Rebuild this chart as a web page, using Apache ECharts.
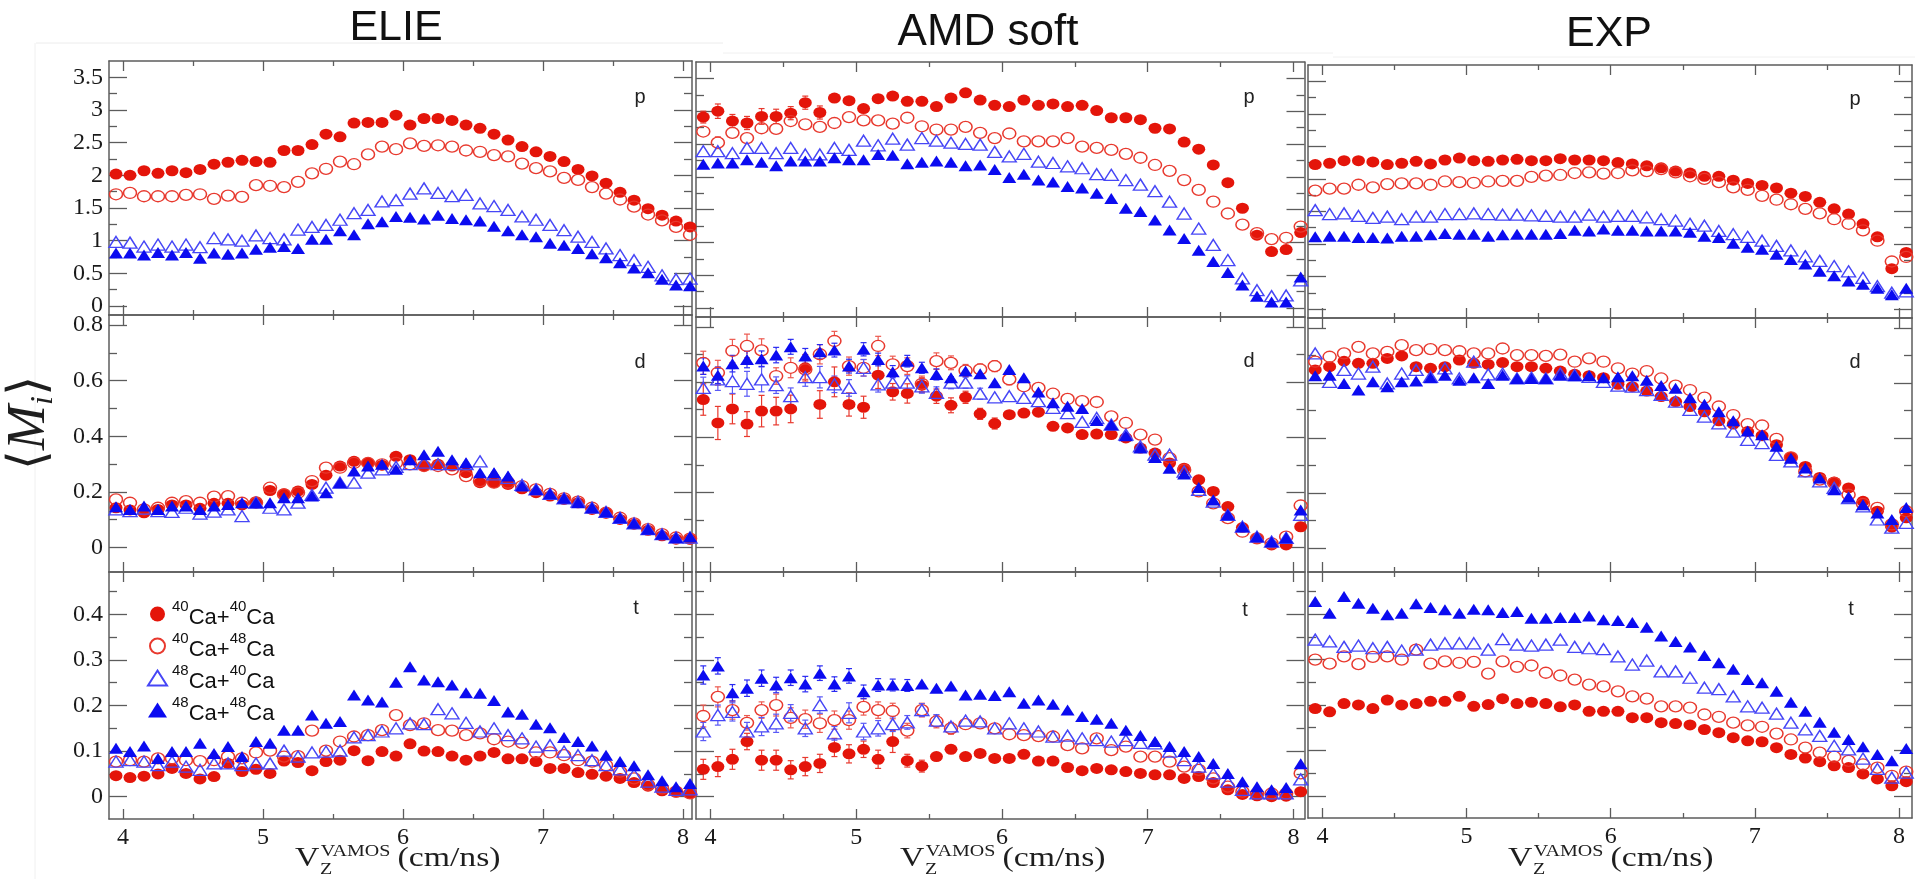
<!DOCTYPE html>
<html><head><meta charset="utf-8">
<script src="https://cdn.jsdelivr.net/npm/echarts@6/dist/echarts.min.js"></script>
<style>html,body{margin:0;padding:0;background:#fff;} #c{width:1915px;height:879px;}</style>
</head><body><div id="c"></div>
<script>
// ---------------- data ----------------
const xs = [3.95,4.05,4.15,4.25,4.35,4.45,4.55,4.65,4.75,4.85,4.95,5.05,5.15,5.25,5.35,5.45,5.55,5.65,5.75,5.85,5.95,6.05,6.15,6.25,6.35,6.45,6.55,6.65,6.75,6.85,6.95,7.05,7.15,7.25,7.35,7.45,7.55,7.65,7.75,7.85,7.95,8.05];
const seriesNames = ['40Ca+40Ca','40Ca+48Ca','48Ca+40Ca','48Ca+48Ca'];
const columnTitles = ['ELIE','AMD soft','EXP'];
const rowLabels = ['p','d','t'];
const xMajorTicks = [4,5,6,7,8];
const xMinorTicks = [4.5,5.5,6.5,7.5];
const yMajorP = [0,0.5,1,1.5,2,2.5,3,3.5];
const yMinorP = [0.25,0.75,1.25,1.75,2.25,2.75,3.25];
const yMajorD = [0,0.2,0.4,0.6,0.8];
const yMinorD = [0.1,0.3,0.5,0.7];
const yMajorT = [0,0.1,0.2,0.3,0.4];
const yMinorT = [0.05,0.15,0.25,0.35,0.45];

// ELIE
const elieP_4040 = [2.02,2.0,2.07,2.03,2.07,2.04,2.09,2.17,2.2,2.23,2.21,2.2,2.38,2.38,2.47,2.63,2.59,2.8,2.81,2.81,2.92,2.77,2.87,2.87,2.84,2.77,2.72,2.63,2.54,2.44,2.36,2.29,2.21,2.09,1.99,1.88,1.74,1.62,1.49,1.39,1.3,1.21];
const elieP_4048 = [1.71,1.73,1.68,1.68,1.68,1.70,1.71,1.64,1.69,1.67,1.85,1.84,1.82,1.90,2.03,2.10,2.21,2.17,2.32,2.44,2.40,2.49,2.45,2.46,2.44,2.38,2.36,2.31,2.29,2.18,2.11,2.06,1.96,1.93,1.82,1.72,1.63,1.52,1.40,1.31,1.21,1.09];
const elieP_4840 = [0.98,0.97,0.91,0.94,0.91,0.94,0.90,1.04,1.02,1.00,1.08,1.04,1.02,1.17,1.21,1.24,1.32,1.42,1.47,1.60,1.62,1.72,1.80,1.73,1.68,1.70,1.57,1.53,1.47,1.37,1.32,1.24,1.16,1.06,0.98,0.88,0.78,0.70,0.60,0.47,0.41,0.42];
const elieP_4848 = [0.81,0.81,0.78,0.82,0.78,0.82,0.73,0.81,0.79,0.81,0.87,0.90,0.91,0.88,1.02,1.02,1.15,1.09,1.26,1.29,1.37,1.36,1.33,1.39,1.34,1.32,1.30,1.22,1.15,1.09,1.06,0.96,0.93,0.88,0.80,0.74,0.66,0.58,0.51,0.41,0.32,0.31];
const elieD_4040 = [0.143,0.135,0.125,0.137,0.153,0.153,0.141,0.159,0.159,0.153,0.165,0.205,0.193,0.203,0.227,0.26,0.293,0.31,0.304,0.296,0.328,0.316,0.293,0.299,0.293,0.269,0.233,0.233,0.227,0.211,0.197,0.185,0.173,0.161,0.137,0.125,0.101,0.084,0.062,0.042,0.03,0.03];
const elieD_4048 = [0.173,0.161,0.137,0.143,0.161,0.167,0.161,0.183,0.185,0.161,0.161,0.215,0.191,0.197,0.239,0.287,0.287,0.304,0.304,0.299,0.304,0.299,0.293,0.293,0.281,0.257,0.239,0.233,0.233,0.221,0.209,0.193,0.177,0.165,0.143,0.125,0.107,0.087,0.066,0.048,0.036,0.032];
const elieD_4840 = [0.137,0.131,0.14,0.131,0.128,0.143,0.122,0.129,0.137,0.113,0.161,0.143,0.137,0.161,0.189,0.215,0.233,0.233,0.269,0.281,0.29,0.3,0.305,0.3,0.3,0.3,0.31,0.263,0.25,0.225,0.209,0.193,0.177,0.165,0.143,0.128,0.107,0.087,0.066,0.048,0.036,0.036];
const elieD_4848 = [0.147,0.137,0.149,0.137,0.149,0.149,0.137,0.149,0.155,0.161,0.161,0.161,0.179,0.179,0.185,0.197,0.233,0.275,0.293,0.299,0.281,0.316,0.334,0.346,0.316,0.304,0.269,0.269,0.257,0.221,0.209,0.193,0.177,0.161,0.143,0.129,0.107,0.087,0.066,0.048,0.036,0.039];
const elieT_4040 = [0.046,0.042,0.045,0.05,0.062,0.051,0.039,0.044,0.073,0.055,0.06,0.051,0.078,0.075,0.057,0.077,0.08,0.101,0.079,0.099,0.089,0.116,0.1,0.099,0.089,0.08,0.089,0.097,0.083,0.083,0.077,0.062,0.062,0.053,0.049,0.045,0.04,0.031,0.023,0.013,0.01,0.007];
const elieT_4048 = [0.077,0.08,0.077,0.084,0.084,0.08,0.078,0.08,0.088,0.084,0.097,0.101,0.088,0.089,0.145,0.101,0.121,0.132,0.135,0.146,0.179,0.157,0.161,0.146,0.145,0.135,0.139,0.126,0.121,0.118,0.097,0.097,0.091,0.08,0.077,0.069,0.055,0.04,0.026,0.018,0.011,0.007];
const elieT_4840 = [0.077,0.08,0.077,0.069,0.077,0.066,0.059,0.073,0.073,0.069,0.073,0.073,0.101,0.088,0.097,0.099,0.101,0.13,0.135,0.143,0.15,0.161,0.159,0.192,0.183,0.162,0.143,0.15,0.135,0.128,0.11,0.113,0.099,0.091,0.08,0.069,0.06,0.048,0.033,0.022,0.015,0.016];
const elieT_4848 = [0.106,0.099,0.111,0.084,0.099,0.099,0.117,0.095,0.11,0.088,0.121,0.117,0.146,0.146,0.179,0.161,0.165,0.223,0.212,0.208,0.251,0.285,0.256,0.252,0.245,0.228,0.227,0.211,0.186,0.181,0.159,0.151,0.13,0.121,0.111,0.091,0.077,0.068,0.048,0.035,0.022,0.029];
// AMD soft
const amdP_4040 = [2.91,3.0,2.85,2.82,2.92,2.92,2.97,3.13,2.98,3.2,3.16,3.04,3.19,3.23,3.15,3.15,3.07,3.2,3.28,3.17,3.09,3.07,3.17,3.09,3.11,3.07,3.09,3.01,2.9,2.9,2.87,2.74,2.73,2.53,2.42,2.18,1.91,1.52,1.11,0.86,0.89,1.15];
const amdP_4048 = [2.69,2.52,2.67,2.59,2.74,2.73,2.85,2.8,2.76,2.82,2.91,2.86,2.86,2.81,2.9,2.77,2.72,2.72,2.76,2.67,2.59,2.66,2.54,2.54,2.54,2.59,2.46,2.44,2.41,2.35,2.29,2.18,2.09,1.95,1.8,1.62,1.44,1.27,1.14,1.05,1.07,1.24];
const amdP_4840 = [2.39,2.39,2.36,2.44,2.44,2.36,2.44,2.34,2.34,2.44,2.41,2.55,2.48,2.58,2.49,2.59,2.55,2.52,2.5,2.49,2.38,2.31,2.35,2.23,2.21,2.16,2.13,2.04,2.03,1.95,1.88,1.78,1.62,1.44,1.21,0.96,0.73,0.45,0.27,0.18,0.19,0.42];
const amdP_4848 = [2.19,2.21,2.21,2.26,2.22,2.17,2.24,2.24,2.24,2.29,2.26,2.26,2.34,2.33,2.2,2.22,2.24,2.22,2.17,2.18,2.11,1.99,2.04,1.95,1.92,1.85,1.83,1.75,1.67,1.52,1.47,1.34,1.19,1.06,0.88,0.71,0.54,0.35,0.18,0.09,0.09,0.47];
const amdD_4040 = [0.537,0.452,0.503,0.448,0.495,0.495,0.503,0.652,0.519,0.601,0.519,0.509,0.625,0.565,0.559,0.589,0.549,0.516,0.545,0.485,0.45,0.482,0.488,0.491,0.44,0.434,0.41,0.412,0.41,0.398,0.361,0.343,0.307,0.288,0.246,0.204,0.149,0.073,0.034,0.01,0.01,0.076];
const amdD_4048 = [0.67,0.634,0.713,0.731,0.715,0.622,0.652,0.646,0.701,0.749,0.658,0.652,0.731,0.664,0.658,0.594,0.676,0.67,0.642,0.646,0.658,0.61,0.585,0.579,0.558,0.539,0.531,0.528,0.476,0.452,0.41,0.392,0.325,0.282,0.204,0.161,0.107,0.058,0.034,0.016,0.04,0.153];
const amdD_4840 = [0.579,0.61,0.604,0.594,0.61,0.589,0.549,0.618,0.618,0.592,0.579,0.652,0.592,0.598,0.598,0.585,0.561,0.598,0.598,0.558,0.545,0.549,0.543,0.531,0.507,0.488,0.456,0.47,0.446,0.41,0.367,0.337,0.337,0.276,0.21,0.167,0.119,0.076,0.04,0.022,0.036,0.119];
const amdD_4848 = [0.658,0.625,0.667,0.682,0.685,0.698,0.728,0.695,0.71,0.716,0.658,0.719,0.682,0.638,0.676,0.652,0.628,0.616,0.64,0.63,0.598,0.646,0.616,0.564,0.525,0.513,0.504,0.461,0.446,0.406,0.361,0.327,0.288,0.267,0.218,0.173,0.119,0.076,0.04,0.022,0.036,0.137];
const amdT_4040 = [0.06,0.066,0.082,0.121,0.08,0.08,0.059,0.066,0.073,0.108,0.094,0.104,0.082,0.121,0.079,0.067,0.088,0.104,0.088,0.095,0.084,0.084,0.093,0.078,0.078,0.064,0.057,0.062,0.059,0.055,0.051,0.048,0.048,0.04,0.044,0.031,0.015,0.005,0.002,0.0,0.001,0.011];
const amdT_4048 = [0.177,0.219,0.19,0.162,0.19,0.201,0.173,0.17,0.161,0.168,0.168,0.197,0.19,0.188,0.145,0.19,0.165,0.15,0.159,0.161,0.15,0.137,0.135,0.133,0.132,0.113,0.106,0.128,0.102,0.11,0.088,0.088,0.077,0.066,0.059,0.04,0.022,0.011,0.007,0.007,0.007,0.051];
const amdT_4840 = [0.143,0.179,0.186,0.143,0.154,0.161,0.184,0.15,0.201,0.139,0.184,0.143,0.15,0.159,0.163,0.19,0.167,0.154,0.167,0.165,0.15,0.161,0.15,0.143,0.132,0.134,0.128,0.124,0.121,0.124,0.118,0.117,0.099,0.08,0.066,0.051,0.033,0.015,0.007,0.007,0.007,0.038];
const amdT_4848 = [0.267,0.287,0.228,0.238,0.26,0.245,0.261,0.247,0.271,0.247,0.265,0.23,0.245,0.245,0.244,0.247,0.238,0.243,0.223,0.225,0.222,0.23,0.205,0.212,0.203,0.19,0.176,0.17,0.161,0.146,0.134,0.121,0.11,0.099,0.088,0.073,0.051,0.033,0.022,0.015,0.02,0.072];
// AMD soft statistical errors (half-length of the error bars)
const amdPErr_4040 = [0.09,0.11,0.1,0.1,0.12,0.11,0.1,0.1,0.1,0.08,0.07,0.07,0.06,0.06,0.05,0.05,0.05,0.05,0.05,0.05,0.04,0.04,0.04,0.04,0.04,0.04,0.04,0.04,0.03,0.03,0.03,0.03,0.03,0.03,0.03,0.03,0.03,0.03,0.03,0.03,0.03,0.03];
const amdPErr_4048 = [0.08,0.09,0.08,0.08,0.08,0.07,0.07,0.06,0.06,0.05,0.05,0.05,0.05,0.04,0.04,0.04,0.04,0.04,0.03,0.03,0.03,0.03,0.03,0.03,0.03,0.03,0.03,0.03,0.03,0.03,0.03,0.03,0.03,0.03,0.03,0.03,0.03,0.03,0.03,0.03,0.03,0.03];
const amdPErr_4840 = [0.06,0.06,0.06,0.05,0.05,0.05,0.05,0.05,0.05,0.04,0.04,0.04,0.04,0.04,0.04,0.04,0.03,0.03,0.03,0.03,0.03,0.03,0.03,0.03,0.03,0.03,0.03,0.03,0.03,0.03,0.03,0.03,0.03,0.03,0.03,0.03,0.03,0.03,0.03,0.03,0.03,0.03];
const amdPErr_4848 = [0.05,0.05,0.05,0.05,0.05,0.05,0.05,0.04,0.04,0.04,0.04,0.04,0.04,0.04,0.04,0.03,0.03,0.03,0.03,0.03,0.03,0.03,0.03,0.03,0.03,0.03,0.03,0.03,0.03,0.03,0.03,0.03,0.03,0.03,0.03,0.03,0.03,0.03,0.03,0.03,0.03,0.03];
const amdDErr_4040 = [0.057,0.06,0.054,0.045,0.057,0.05,0.05,0.048,0.05,0.054,0.042,0.04,0.048,0.03,0.035,0.027,0.026,0.027,0.022,0.02,0.02,0.018,0.018,0.016,0.015,0.015,0.014,0.014,0.013,0.012,0.012,0.011,0.011,0.01,0.01,0.01,0.01,0.01,0.01,0.01,0.01,0.01];
const amdDErr_4048 = [0.042,0.045,0.042,0.043,0.042,0.03,0.036,0.036,0.035,0.035,0.033,0.03,0.035,0.03,0.03,0.028,0.03,0.025,0.022,0.02,0.02,0.02,0.018,0.017,0.016,0.015,0.015,0.014,0.013,0.012,0.012,0.011,0.011,0.01,0.01,0.01,0.01,0.01,0.01,0.01,0.01,0.01];
const amdDErr_4840 = [0.039,0.04,0.045,0.045,0.045,0.03,0.03,0.033,0.039,0.03,0.03,0.03,0.028,0.027,0.025,0.025,0.022,0.022,0.02,0.02,0.019,0.018,0.017,0.016,0.015,0.015,0.014,0.013,0.013,0.012,0.012,0.011,0.011,0.01,0.01,0.01,0.01,0.01,0.01,0.01,0.01,0.01];
const amdDErr_4848 = [0.03,0.03,0.03,0.03,0.028,0.028,0.027,0.027,0.026,0.025,0.025,0.024,0.023,0.022,0.021,0.02,0.02,0.019,0.018,0.017,0.016,0.015,0.015,0.014,0.013,0.013,0.012,0.012,0.011,0.011,0.01,0.01,0.01,0.01,0.01,0.01,0.01,0.01,0.01,0.01,0.01,0.01];
const amdTErr_4040 = [0.022,0.022,0.022,0.018,0.022,0.022,0.02,0.02,0.02,0.02,0.02,0.018,0.02,0.024,0.014,0.013,0.012,0.012,0.011,0.011,0.011,0.01,0.01,0.01,0.009,0.009,0.008,0.008,0.008,0.007,0.007,0.007,0.006,0.006,0.006,0.005,0.005,0.005,0.004,0.004,0.004,0.004];
const amdTErr_4048 = [0.024,0.022,0.02,0.016,0.018,0.024,0.022,0.02,0.02,0.02,0.02,0.018,0.018,0.017,0.016,0.015,0.014,0.013,0.012,0.012,0.011,0.011,0.01,0.01,0.01,0.009,0.009,0.009,0.008,0.008,0.008,0.007,0.007,0.007,0.006,0.006,0.006,0.005,0.005,0.005,0.005,0.005];
const amdTErr_4840 = [0.02,0.022,0.02,0.02,0.02,0.02,0.018,0.018,0.018,0.015,0.022,0.018,0.017,0.016,0.015,0.014,0.013,0.012,0.012,0.011,0.011,0.011,0.01,0.01,0.01,0.009,0.009,0.009,0.008,0.008,0.008,0.007,0.007,0.007,0.006,0.006,0.006,0.005,0.005,0.005,0.005,0.005];
const amdTErr_4848 = [0.02,0.018,0.018,0.018,0.018,0.017,0.017,0.017,0.016,0.016,0.016,0.015,0.014,0.013,0.013,0.012,0.012,0.012,0.011,0.011,0.011,0.01,0.01,0.01,0.01,0.009,0.009,0.009,0.008,0.008,0.008,0.007,0.007,0.007,0.006,0.006,0.006,0.005,0.005,0.005,0.005,0.005];
// EXP
const expP_4040 = [2.22,2.24,2.28,2.28,2.26,2.22,2.24,2.27,2.23,2.29,2.32,2.28,2.27,2.29,2.3,2.28,2.28,2.31,2.29,2.29,2.28,2.25,2.23,2.2,2.17,2.12,2.09,2.04,2.04,1.98,1.93,1.9,1.86,1.78,1.73,1.64,1.54,1.46,1.31,1.11,0.62,0.87];
const expP_4048 = [1.82,1.85,1.85,1.91,1.87,1.92,1.93,1.93,1.91,1.96,1.95,1.94,1.96,1.97,1.97,2.03,2.05,2.06,2.09,2.1,2.08,2.09,2.13,2.12,2.15,2.1,2.04,2.0,1.95,1.87,1.83,1.74,1.68,1.61,1.54,1.47,1.38,1.31,1.21,1.05,0.73,0.8];
const expP_4840 = [1.52,1.46,1.47,1.43,1.4,1.42,1.38,1.42,1.42,1.46,1.46,1.47,1.46,1.45,1.45,1.44,1.43,1.42,1.42,1.45,1.42,1.43,1.43,1.41,1.38,1.36,1.31,1.28,1.2,1.15,1.11,1.05,0.97,0.9,0.81,0.74,0.66,0.58,0.48,0.35,0.25,0.27];
const expP_4848 = [1.11,1.12,1.12,1.1,1.1,1.09,1.12,1.12,1.14,1.16,1.15,1.15,1.12,1.14,1.15,1.15,1.15,1.16,1.21,1.2,1.23,1.21,1.21,1.2,1.2,1.2,1.18,1.12,1.1,1.01,0.95,0.92,0.84,0.76,0.69,0.58,0.51,0.43,0.38,0.32,0.22,0.32];
const expD_4040 = [0.647,0.659,0.679,0.671,0.671,0.689,0.698,0.659,0.653,0.659,0.683,0.671,0.667,0.674,0.659,0.659,0.653,0.643,0.631,0.626,0.619,0.595,0.586,0.57,0.55,0.532,0.514,0.495,0.462,0.45,0.423,0.408,0.375,0.329,0.296,0.256,0.239,0.218,0.169,0.133,0.075,0.109];
const expD_4048 = [0.677,0.695,0.707,0.731,0.707,0.713,0.737,0.719,0.723,0.719,0.715,0.707,0.707,0.725,0.701,0.701,0.698,0.703,0.677,0.689,0.677,0.653,0.634,0.643,0.616,0.59,0.574,0.546,0.514,0.483,0.45,0.445,0.396,0.329,0.278,0.248,0.236,0.193,0.16,0.145,0.085,0.133];
const expD_4840 = [0.707,0.604,0.647,0.634,0.659,0.598,0.634,0.647,0.622,0.653,0.616,0.677,0.631,0.634,0.616,0.619,0.616,0.634,0.628,0.622,0.604,0.59,0.586,0.574,0.556,0.532,0.502,0.477,0.453,0.423,0.393,0.381,0.338,0.314,0.278,0.242,0.218,0.181,0.151,0.103,0.073,0.091];
const expD_4848 = [0.626,0.628,0.598,0.574,0.604,0.586,0.604,0.607,0.619,0.628,0.61,0.619,0.598,0.628,0.616,0.616,0.616,0.628,0.626,0.626,0.619,0.622,0.626,0.61,0.59,0.58,0.546,0.522,0.495,0.462,0.425,0.411,0.369,0.326,0.29,0.254,0.211,0.184,0.157,0.127,0.103,0.147];
const expT_4040 = [0.192,0.185,0.203,0.2,0.192,0.211,0.2,0.203,0.208,0.208,0.219,0.197,0.201,0.214,0.203,0.206,0.203,0.196,0.2,0.186,0.186,0.186,0.172,0.172,0.161,0.159,0.156,0.146,0.139,0.128,0.121,0.119,0.106,0.091,0.083,0.075,0.066,0.062,0.048,0.037,0.022,0.031];
const expT_4048 = [0.3,0.291,0.307,0.29,0.306,0.307,0.3,0.322,0.291,0.296,0.293,0.295,0.269,0.296,0.284,0.287,0.271,0.265,0.256,0.245,0.241,0.23,0.219,0.214,0.197,0.197,0.194,0.179,0.174,0.161,0.155,0.152,0.137,0.124,0.106,0.095,0.086,0.077,0.069,0.062,0.044,0.053];
const expT_4840 = [0.344,0.34,0.328,0.331,0.325,0.328,0.32,0.322,0.333,0.336,0.336,0.336,0.322,0.345,0.333,0.331,0.333,0.344,0.328,0.325,0.323,0.307,0.289,0.298,0.274,0.274,0.26,0.238,0.235,0.219,0.197,0.194,0.181,0.161,0.146,0.132,0.11,0.102,0.082,0.059,0.04,0.051];
const expT_4848 = [0.428,0.402,0.439,0.424,0.413,0.399,0.402,0.423,0.415,0.41,0.402,0.411,0.41,0.404,0.406,0.391,0.391,0.393,0.393,0.396,0.388,0.386,0.382,0.371,0.352,0.34,0.328,0.309,0.293,0.279,0.256,0.249,0.23,0.206,0.186,0.162,0.14,0.124,0.108,0.091,0.077,0.104];

// ---------------- layout / style ----------------
const panelData = [
  [[elieP_4040,elieP_4048,elieP_4840,elieP_4848],[elieD_4040,elieD_4048,elieD_4840,elieD_4848],[elieT_4040,elieT_4048,elieT_4840,elieT_4848]],
  [[amdP_4040,amdP_4048,amdP_4840,amdP_4848],[amdD_4040,amdD_4048,amdD_4840,amdD_4848],[amdT_4040,amdT_4048,amdT_4840,amdT_4848]],
  [[expP_4040,expP_4048,expP_4840,expP_4848],[expD_4040,expD_4048,expD_4840,expD_4848],[expT_4040,expT_4048,expT_4840,expT_4848]]
];
const panelErr = [
  null,
  [[amdPErr_4040,amdPErr_4048,amdPErr_4840,amdPErr_4848],[amdDErr_4040,amdDErr_4048,amdDErr_4840,amdDErr_4848],[amdTErr_4040,amdTErr_4048,amdTErr_4840,amdTErr_4848]],
  null
];
const colBox = [{l:109, r:692, xmax:8.064}, {l:696, r:1304.5, xmax:8.076}, {l:1308, r:1912, xmax:8.09}];
const rowBox = [[[61,315],[315,572],[572,819]], [[62,317],[317,572],[572,819]], [[65,318],[318,572],[572,818]]];
const yRange = [[-0.138,3.75],[-0.088,0.836],[-0.049,0.493]];
const yMajors = [yMajorP, yMajorD, yMajorT];
const yMinors = [yMinorP, yMinorD, yMinorT];
const AX = '#5c5c5c';
const RED = '#e4150a', RED_OPEN = '#e8392e', BLUE = '#0b0bf0', BLUE_OPEN = '#4646f6';
const errColors = ['#e8392e', '#ec5a50', '#5a5af6', '#2a2af2'];
const styles = [
  {symbol:'circle', symbolSize:[13,11], itemStyle:{color:RED, opacity:1}},
  {symbol:'circle', symbolSize:[13,11], itemStyle:{color:'rgba(255,255,255,0)', borderColor:RED_OPEN, borderWidth:1.4, opacity:1}},
  {symbol:'triangle', symbolSize:[14,11], itemStyle:{color:'rgba(255,255,255,0)', borderColor:BLUE_OPEN, borderWidth:1.4, opacity:1}},
  {symbol:'triangle', symbolSize:[14,11], itemStyle:{color:BLUE, opacity:1}}
];
const labelFont = {color:'#1a1a1a', fontFamily:'Liberation Serif', fontSize:24};
const HALF_MARK = 5.5; // error bar is drawn only outside the marker

function errorBarRender(color) {
  return function (params, api) {
    const x = api.value(0), y = api.value(1), e = api.value(2);
    const top = api.coord([x, y + e]), mid = api.coord([x, y]), bot = api.coord([x, y - e]);
    const st = {stroke: color, lineWidth: 1.2};
    const children = [];
    if (mid[1] - top[1] > HALF_MARK) {
      children.push({type:'line', shape:{x1:top[0], y1:top[1], x2:mid[0], y2:mid[1]-HALF_MARK}, style:st});
      children.push({type:'line', shape:{x1:top[0]-3, y1:top[1], x2:top[0]+3, y2:top[1]}, style:st});
    }
    if (bot[1] - mid[1] > HALF_MARK) {
      children.push({type:'line', shape:{x1:mid[0], y1:mid[1]+HALF_MARK, x2:bot[0], y2:bot[1]}, style:st});
      children.push({type:'line', shape:{x1:bot[0]-3, y1:bot[1], x2:bot[0]+3, y2:bot[1]}, style:st});
    }
    return {type:'group', children};
  };
}

const grid=[], xAxis=[], yAxis=[], series=[];
for (let c=0;c<3;c++) for (let r=0;r<3;r++) {
  const g = grid.length;
  grid.push({left:colBox[c].l, top:rowBox[c][r][0], width:colBox[c].r-colBox[c].l, height:rowBox[c][r][1]-rowBox[c][r][0], containLabel:false, outerBoundsMode:'none'});
  const xi = xAxis.length, yi = yAxis.length;
  const mkX = (pos, ticks, len, line, labels) => ({gridIndex:g, type:'value', position:pos, min:3.9, max:colBox[c].xmax,
    axisLine:{show:line, onZero:false, lineStyle:{color:AX, width:1.5}},
    axisTick:{show:true, inside:true, length:len, customValues:ticks, lineStyle:{color:AX, width:1.3}},
    axisLabel:Object.assign({show:labels, customValues:ticks, margin:7}, labelFont),
    splitLine:{show:false}, splitArea:{show:false}, minorTick:{show:false}});
  xAxis.push(mkX('bottom', xMajorTicks, 10, true, r===2));
  xAxis.push(mkX('bottom', xMinorTicks, 5, false, false));
  xAxis.push(mkX('top', xMajorTicks, 10, true, false));
  xAxis.push(mkX('top', xMinorTicks, 5, false, false));
  const mkY = (pos, ticks, len, line, labels) => ({gridIndex:g, type:'value', position:pos, min:yRange[r][0], max:yRange[r][1],
    axisLine:{show:line, onZero:false, lineStyle:{color:AX, width:1.5}},
    axisTick:{show:true, inside:true, length:len, customValues:ticks, lineStyle:{color:AX, width:1.3}},
    axisLabel:Object.assign({show:labels, customValues:ticks, margin:6}, labelFont),
    splitLine:{show:false}, splitArea:{show:false}, minorTick:{show:false}});
  yAxis.push(mkY('left', yMajors[r], 18, true, c===0));
  yAxis.push(mkY('left', yMinors[r], 8, false, false));
  yAxis.push(mkY('right', yMajors[r], 18, true, false));
  yAxis.push(mkY('right', yMinors[r], 8, false, false));
  for (let k=0;k<4;k++) {
    const arr = panelData[c][r][k];
    if (panelErr[c]) {
      const err = panelErr[c][r][k];
      series.push({type:'custom', name:'err', coordinateSystem:'cartesian2d', xAxisIndex:xi, yAxisIndex:yi,
        data: xs.map((x,i)=>[x, arr[i], err[i]]), encode:{x:0, y:1}, renderItem: errorBarRender(errColors[k]),
        silent:true, animation:false, clip:false});
    }
    series.push(Object.assign({type:'scatter', name:seriesNames[k], xAxisIndex:xi, yAxisIndex:yi,
      data: xs.map((x,i)=>[x, arr[i]]), silent:true, emphasis:{disabled:true}, animation:false}, JSON.parse(JSON.stringify(styles[k]))));
  }
}

// graphic annotations (titles, panel labels, axis names)
const graphic = [];
graphic.push({type:'line', shape:{x1:36,y1:43,x2:723,y2:43}, style:{stroke:'#ececec', lineWidth:1}, silent:true});
graphic.push({type:'line', shape:{x1:723,y1:53,x2:1333,y2:53}, style:{stroke:'#f0f0f0', lineWidth:1}, silent:true});
graphic.push({type:'line', shape:{x1:1333,y1:57,x2:1915,y2:57}, style:{stroke:'#f0f0f0', lineWidth:1}, silent:true});
graphic.push({type:'line', shape:{x1:35,y1:43,x2:35,y2:879}, style:{stroke:'#f0f0f0', lineWidth:1}, silent:true});
const titlePos = [[396,28.5,43],[988,32.5,44],[1609,34.5,43]];
columnTitles.forEach((t,i)=>graphic.push({type:'text', x:titlePos[i][0], y:titlePos[i][1], silent:true,
  style:{text:t, fill:'#111', font:`${titlePos[i][2]}px "Liberation Sans", Arial, sans-serif`, align:'center', verticalAlign:'middle'}}));
const labelPos = [[[640,97],[640,362],[636,608]],[[1249,97],[1249,361],[1245,610]],[[1855,99],[1855,362],[1851,609]]];
for (let c=0;c<3;c++) for (let r=0;r<3;r++) graphic.push({type:'text', x:labelPos[c][r][0], y:labelPos[c][r][1], silent:true,
  style:{text:rowLabels[r], fill:'#222', font:'20px "Liberation Sans", Arial, sans-serif', align:'center', verticalAlign:'middle'}});
// x-axis titles
const xTitleLeft = [295, 900, 1508];
xTitleLeft.forEach(x0=>graphic.push({type:'group', x:x0, y:868, scaleX:1.25, silent:true, children:[
  {type:'text', x:0, y:-9.2, style:{text:'V', fill:'#1e1e1e', font:'27px "Liberation Serif", serif', align:'left', verticalAlign:'middle'}},
  {type:'text', x:20.5, y:-16.4, style:{text:'VAMOS', fill:'#1e1e1e', font:'16px "Liberation Serif", serif', align:'left', verticalAlign:'middle'}},
  {type:'text', x:20, y:1.6, style:{text:'Z', fill:'#1e1e1e', font:'16px "Liberation Serif", serif', align:'left', verticalAlign:'middle'}},
  {type:'text', x:82, y:-9.2, style:{text:'(cm/ns)', fill:'#1e1e1e', font:'27px "Liberation Serif", serif', align:'left', verticalAlign:'middle'}}
]}));
// y-axis name <M_i>
graphic.push({type:'text', x:30, y:423, rotation:Math.PI/2, silent:true, style:{
  text:'{b|\u27E8}{m|M}{i|i}{b|\u27E9}', align:'center', verticalAlign:'middle',
  rich:{
    b:{fontFamily:'DejaVu Serif', fontSize:52, fill:'#1e1e1e', lineHeight:60},
    m:{fontFamily:'Liberation Serif', fontStyle:'italic', fontSize:54, fill:'#1e1e1e', lineHeight:60},
    i:{fontFamily:'Liberation Serif', fontStyle:'italic', fontSize:32, fill:'#1e1e1e', lineHeight:30, verticalAlign:'bottom'}
  }}});

const option = {
  animation:false,
  backgroundColor:'#fff',
  grid, xAxis, yAxis, series, graphic,
  legend:{show:true, left:142, top:594, orient:'vertical', itemWidth:19, itemHeight:15, itemGap:2, selectedMode:false,
    data:seriesNames,
    formatter:(n)=>{ const m = n.match(/^(\d+)Ca\+(\d+)Ca$/); return `{s|${m[1]}}{m|Ca+}{s|${m[2]}}{m|Ca}`; },
    textStyle:{rich:{
      s:{fontSize:15, fontFamily:'Liberation Sans', color:'#111', lineHeight:12, verticalAlign:'top'},
      m:{fontSize:22, fontFamily:'Liberation Sans', color:'#111', lineHeight:30, verticalAlign:'bottom'}
    }}
  }
};
const chart = echarts.init(document.getElementById('c'), null, {width:1915, height:879});
chart.setOption(option);
</script></body></html>
